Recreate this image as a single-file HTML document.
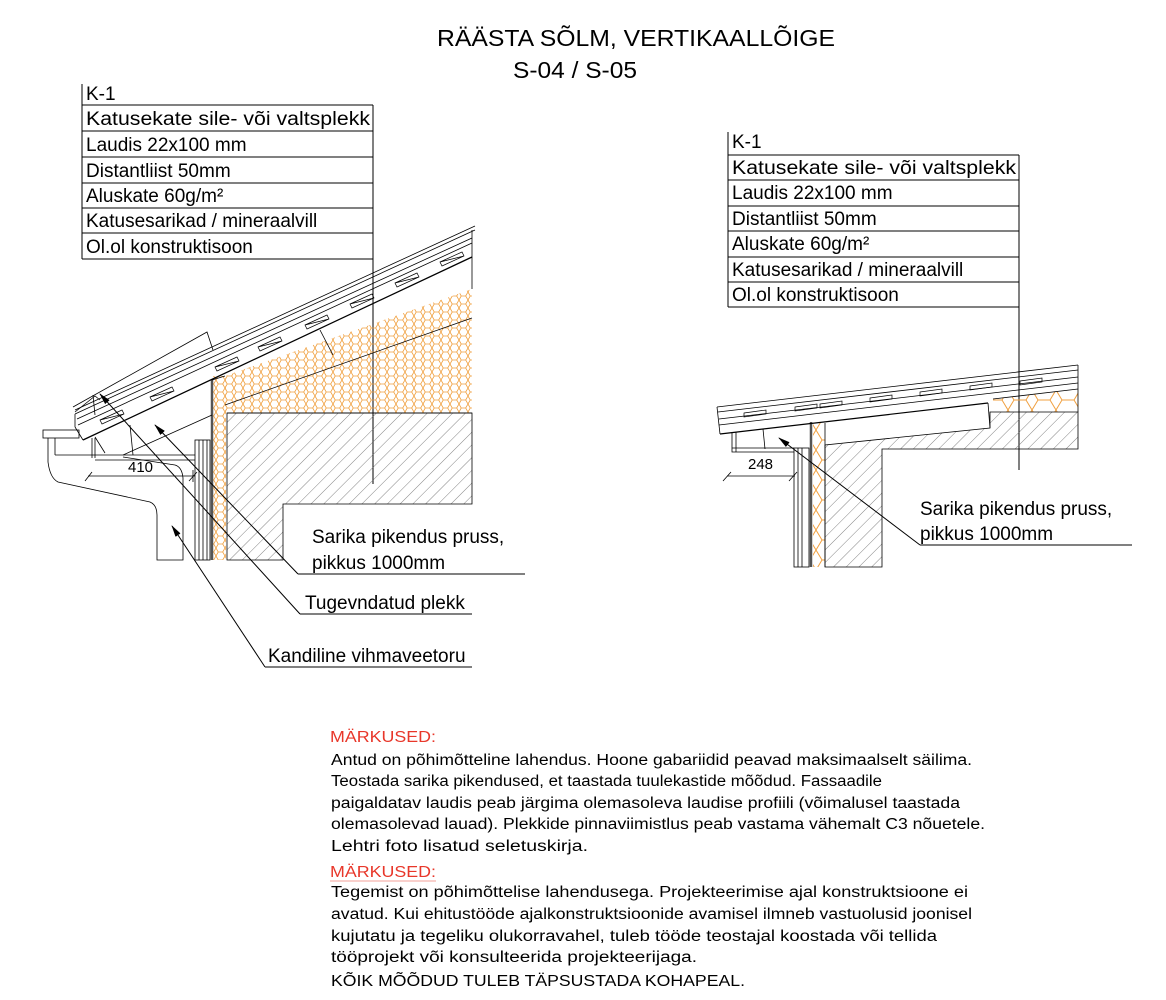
<!DOCTYPE html>
<html><head><meta charset="utf-8"><style>
html,body{margin:0;padding:0;background:#fff;}
svg{display:block;}
text{font-family:"Liberation Sans",Arial,sans-serif;fill:#000;}
</style></head><body>
<svg width="1166" height="1000" viewBox="0 0 1166 1000" xmlns="http://www.w3.org/2000/svg">
<defs>
<pattern id="hatch" width="9" height="9" patternUnits="userSpaceOnUse" patternTransform="rotate(45)">
<line x1="0" y1="0" x2="0" y2="9" stroke="#666" stroke-width="0.8"/>
</pattern>
<pattern id="hex" width="9" height="8" patternUnits="userSpaceOnUse">
<path d="M0,4 L2.2,0 L6.7,0 L9,4 L6.7,8 L2.2,8 Z" fill="none" stroke="#f0a040" stroke-width="0.8"/>
</pattern>
<pattern id="hexL" width="24" height="20" patternUnits="userSpaceOnUse">
<path d="M0,10 L6,0 L18,0 L24,10 L18,20 L6,20 Z" fill="none" stroke="#f0a040" stroke-width="1"/>
</pattern>
<marker id="ar" markerWidth="12" markerHeight="8" refX="11" refY="4" orient="auto" markerUnits="userSpaceOnUse">
<path d="M0,1 L12,4 L0,7 Z" fill="#000"/>
</marker>
</defs>

<!-- Title -->
<text x="437" y="46" font-size="23" textLength="398" lengthAdjust="spacingAndGlyphs">RÄÄSTA SÕLM, VERTIKAALLÕIGE</text>
<text x="513" y="78" font-size="23" textLength="124" lengthAdjust="spacingAndGlyphs">S-04 / S-05</text>

<!-- Left table -->
<g font-size="19" stroke="none">
<text x="86" y="100">K-1</text>
<text x="86" y="125" textLength="284" lengthAdjust="spacingAndGlyphs">Katusekate sile- või valtsplekk</text>
<text x="86" y="151">Laudis 22x100 mm</text>
<text x="86" y="177">Distantliist 50mm</text>
<text x="86" y="202">Aluskate 60g/m²</text>
<text x="86" y="227">Katusesarikad / mineraalvill</text>
<text x="86" y="253">Ol.ol konstruktisoon</text>
</g>
<g stroke="#000" stroke-width="1" fill="none">
<line x1="82" y1="84" x2="82" y2="259"/>
<line x1="373" y1="105" x2="373" y2="484"/>
<line x1="82" y1="105" x2="373" y2="105"/>
<line x1="82" y1="131" x2="373" y2="131"/>
<line x1="82" y1="157" x2="373" y2="157"/>
<line x1="82" y1="183" x2="373" y2="183"/>
<line x1="82" y1="208" x2="373" y2="208"/>
<line x1="82" y1="233" x2="373" y2="233"/>
<line x1="82" y1="259" x2="373" y2="259"/>
</g>

<!-- Right table -->
<g font-size="19">
<text x="732" y="148">K-1</text>
<text x="732" y="174" textLength="284" lengthAdjust="spacingAndGlyphs">Katusekate sile- või valtsplekk</text>
<text x="732" y="199">Laudis 22x100 mm</text>
<text x="732" y="225">Distantliist 50mm</text>
<text x="732" y="250">Aluskate 60g/m²</text>
<text x="732" y="276">Katusesarikad / mineraalvill</text>
<text x="732" y="301">Ol.ol konstruktisoon</text>
</g>
<g stroke="#000" stroke-width="1" fill="none">
<line x1="728" y1="132" x2="728" y2="307"/>
<line x1="1019" y1="155" x2="1019" y2="470"/>
<line x1="728" y1="155" x2="1019" y2="155"/>
<line x1="728" y1="180" x2="1019" y2="180"/>
<line x1="728" y1="206" x2="1019" y2="206"/>
<line x1="728" y1="231" x2="1019" y2="231"/>
<line x1="728" y1="257" x2="1019" y2="257"/>
<line x1="728" y1="282" x2="1019" y2="282"/>
<line x1="728" y1="307" x2="1019" y2="307"/>
</g>

<!-- LEFT DETAIL -->
<polygon points="225,376 472,289 472,413 225,413" fill="url(#hex)"/>
<rect x="213" y="376" width="13" height="184" fill="url(#hex)"/>
<polygon points="227,413 472,413 472,504 283,504 283,560 227,560" fill="url(#hatch)" stroke="#000" stroke-width="0.8"/>
<line x1="227" y1="413" x2="472" y2="413" stroke="#000" stroke-width="0.8"/>
<line x1="225" y1="405" x2="472" y2="318" stroke="#000" stroke-width="0.7"/>
<line x1="212" y1="380" x2="212" y2="560" stroke="#555" stroke-width="2.5"/>
<g stroke="#000" stroke-width="0.8" fill="none">
<rect x="195" y="440" width="15" height="120"/>
<line x1="199" y1="440" x2="199" y2="560"/>
<line x1="203" y1="440" x2="203" y2="560"/>
<line x1="207" y1="440" x2="207" y2="560"/>
<line x1="212" y1="380" x2="225" y2="376"/>
<line x1="83" y1="440" x2="472" y2="257" stroke-width="1.3"/>
<line x1="78" y1="425" x2="472" y2="243"/>
<line x1="77" y1="419" x2="472" y2="238"/>
<line x1="75" y1="414" x2="475" y2="230"/>
<line x1="75" y1="410" x2="475" y2="226"/>
<line x1="75" y1="414" x2="75" y2="427"/>
<line x1="75" y1="427" x2="83" y2="440"/>
<line x1="472" y1="230" x2="472" y2="289"/>
<g stroke-width="0.7">
<path d="M150,397 l22,-10 l2,4 l-22,10 z M150,397 l24,-6"/>
<path d="M215,367 l22,-10 l2,4 l-22,10 z M215,367 l24,-6"/>
<path d="M258,347 l22,-10 l2,4 l-22,10 z M258,347 l24,-6"/>
<path d="M305,325 l22,-10 l2,4 l-22,10 z M305,325 l24,-6"/>
<path d="M350,304 l22,-10 l2,4 l-22,10 z M350,304 l24,-6"/>
<path d="M395,283 l22,-10 l2,4 l-22,10 z M395,283 l24,-6"/>
<path d="M440,262 l22,-10 l2,4 l-22,10 z M440,262 l24,-6"/>
<path d="M100,420 l22,-10 l2,4 l-22,10 z M100,420 l24,-6"/>
</g>
<polyline points="73,407 207,332 213,350"/>
<polyline points="75,412 95,396 100,400"/>
<line x1="93" y1="395" x2="95" y2="415"/>
<line x1="123" y1="455" x2="212" y2="415"/>
<line x1="95" y1="437" x2="105" y2="453"/>
<line x1="130" y1="425" x2="133" y2="455"/>
<line x1="320" y1="330" x2="333" y2="355"/>
<rect x="43" y="430" width="36" height="8"/>
<path d="M48,438 L48,462 Q50,478 58,482 L150,502 Q157,505 157,515 L157,560 L183,560 L183,478 Q182,467 175,465 L123,457"/>
<line x1="55" y1="438" x2="55" y2="455"/>
<line x1="92" y1="438" x2="92" y2="458"/>
<line x1="95" y1="438" x2="95" y2="458"/>
<line x1="55" y1="455" x2="195" y2="455"/>
<line x1="95" y1="460" x2="195" y2="460"/>
<line x1="88" y1="476" x2="195" y2="476"/>
<line x1="85" y1="481" x2="92" y2="472"/>
<line x1="189" y1="481" x2="197" y2="472"/>
<line x1="193" y1="470" x2="193" y2="482"/>
</g>
<text x="128" y="472" font-size="15">410</text>

<g stroke="#000" stroke-width="1" fill="none">
<line x1="298" y1="574" x2="525" y2="574"/>
<line x1="298" y1="574" x2="155" y2="425" marker-end="url(#ar)"/>
<line x1="300" y1="614" x2="472" y2="614"/>
<line x1="300" y1="614" x2="100" y2="394" marker-end="url(#ar)"/>
<line x1="265" y1="667" x2="472" y2="667"/>
<line x1="265" y1="667" x2="172" y2="526" marker-end="url(#ar)"/>
</g>
<g font-size="19">
<text x="312" y="543">Sarika pikendus pruss,</text>
<text x="312" y="569">pikkus 1000mm</text>
<text x="305" y="609">Tugevndatud plekk</text>
<text x="268" y="662">Kandiline vihmaveetoru</text>
</g>

<!-- RIGHT DETAIL -->
<polygon points="993,399 1078,389 1078,412 993,412" fill="url(#hexL)"/>
<rect x="813" y="423" width="12" height="144" fill="url(#hexL)"/>
<polygon points="990,412 1078,412 1078,449 882,449 882,567 825,567 825,445 990,428" fill="url(#hatch)" stroke="#000" stroke-width="0.8"/>
<line x1="811" y1="422" x2="811" y2="567" stroke="#555" stroke-width="2.5"/>
<g stroke="#000" stroke-width="0.8" fill="none">
<rect x="794" y="448" width="15" height="119"/>
<line x1="798" y1="448" x2="798" y2="567"/>
<line x1="802" y1="448" x2="802" y2="567"/>
<line x1="825" y1="423" x2="825" y2="567"/>
<line x1="720" y1="434" x2="988" y2="403" stroke-width="1.2"/>
<line x1="988" y1="403" x2="990" y2="428"/>
<line x1="719" y1="425" x2="1078" y2="383"/>
<line x1="719" y1="419" x2="1078" y2="377"/>
<line x1="718" y1="412" x2="1078" y2="370"/>
<line x1="717" y1="407" x2="1078" y2="365"/>
<line x1="717" y1="407" x2="720" y2="434"/>
<line x1="1078" y1="365" x2="1078" y2="412"/>
<line x1="993" y1="399" x2="1078" y2="389"/>
<g stroke-width="0.7">
<path d="M744,413 l22,-3 l0,4 l-22,3 z"/>
<path d="M795,407 l22,-3 l0,4 l-22,3 z"/>
<path d="M820,404 l22,-3 l0,4 l-22,3 z"/>
<path d="M870,398 l22,-3 l0,4 l-22,3 z"/>
<path d="M920,392 l22,-3 l0,4 l-22,3 z"/>
<path d="M970,386 l22,-3 l0,4 l-22,3 z"/>
<path d="M1020,381 l22,-3 l0,4 l-22,3 z"/>
</g>
<polyline points="732,432 732,452 794,452"/>
<line x1="736" y1="432" x2="736" y2="452"/>
<line x1="732" y1="448" x2="794" y2="448"/>
<line x1="763" y1="429" x2="765" y2="449"/>
<line x1="727" y1="476" x2="795" y2="476"/>
<line x1="723" y1="481" x2="731" y2="472"/>
<line x1="789" y1="481" x2="797" y2="472"/>
<line x1="920" y1="545" x2="1132" y2="545" stroke-width="1"/>
<line x1="920" y1="545" x2="779" y2="438" stroke-width="1" marker-end="url(#ar)"/>
</g>
<text x="748" y="469" font-size="15">248</text>
<g font-size="19">
<text x="920" y="515">Sarika pikendus pruss,</text>
<text x="920" y="540">pikkus 1000mm</text>
</g>

<!-- NOTES -->
<g font-size="15.5">
<text x="330" y="742" style="fill:#e8372a" textLength="106" lengthAdjust="spacingAndGlyphs">MÄRKUSED:</text>
<text x="331" y="765" textLength="641" lengthAdjust="spacingAndGlyphs">Antud on põhimõtteline lahendus. Hoone gabariidid peavad maksimaalselt säilima.</text>
<text x="331" y="786" textLength="551" lengthAdjust="spacingAndGlyphs">Teostada sarika pikendused, et taastada tuulekastide mõõdud. Fassaadile</text>
<text x="331" y="808" textLength="629" lengthAdjust="spacingAndGlyphs">paigaldatav laudis peab järgima olemasoleva laudise profiili (võimalusel taastada</text>
<text x="331" y="829" textLength="654" lengthAdjust="spacingAndGlyphs">olemasolevad lauad). Plekkide pinnaviimistlus peab vastama vähemalt C3 nõuetele.</text>
<text x="331" y="851" textLength="257" lengthAdjust="spacingAndGlyphs">Lehtri foto lisatud seletuskirja.</text>
<text x="330" y="877" style="fill:#e8372a" textLength="106" lengthAdjust="spacingAndGlyphs">MÄRKUSED:</text>
<line x1="330" y1="881" x2="436" y2="881" stroke="#f3a29a" stroke-width="1"/>
<text x="331" y="897" textLength="637" lengthAdjust="spacingAndGlyphs">Tegemist on põhimõttelise lahendusega. Projekteerimise ajal konstruktsioone ei</text>
<text x="331" y="919" textLength="641" lengthAdjust="spacingAndGlyphs">avatud. Kui ehitustööde ajalkonstruktsioonide avamisel ilmneb vastuolusid joonisel</text>
<text x="331" y="941" textLength="606" lengthAdjust="spacingAndGlyphs">kujutatu ja tegeliku olukorravahel, tuleb tööde teostajal koostada või tellida</text>
<text x="331" y="962" textLength="366" lengthAdjust="spacingAndGlyphs">tööprojekt või konsulteerida projekteerijaga.</text>
<text x="331" y="986" textLength="414" lengthAdjust="spacingAndGlyphs">KÕIK MÕÕDUD TULEB TÄPSUSTADA KOHAPEAL.</text>
</g>
</svg>
</body></html>
